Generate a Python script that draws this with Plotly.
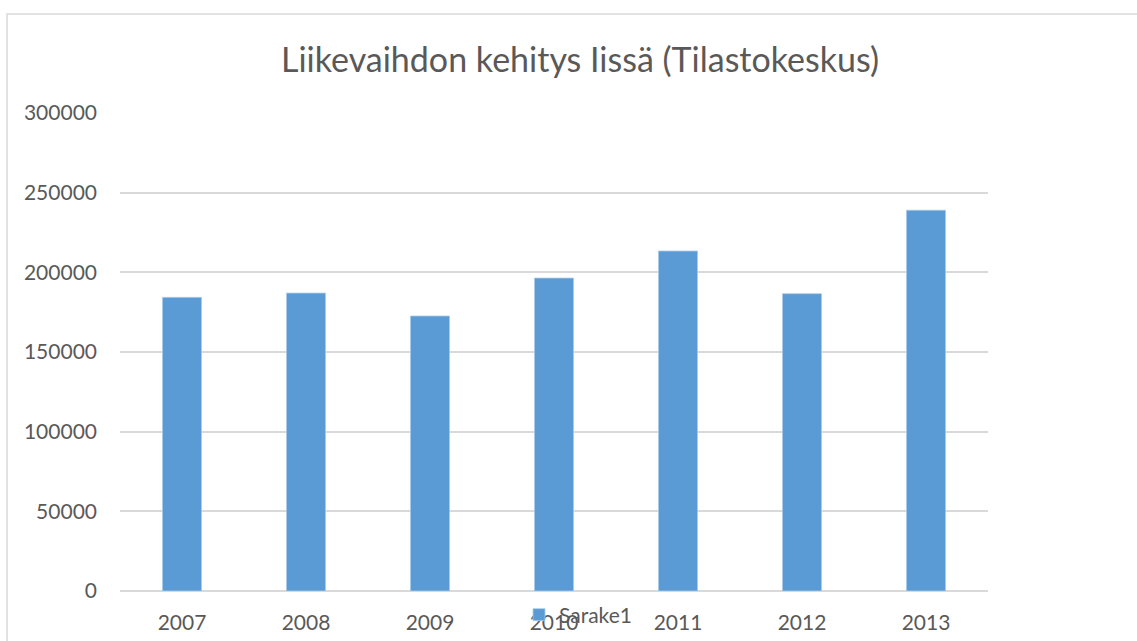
import plotly.graph_objects as go

years = ["2007", "2008", "2009", "2010", "2011", "2012", "2013"]
revenue = [184300, 187000, 172600, 196400, 213400, 186600, 239000]
series_name = "Sarake1"
title_text = "Liikevaihdon kehitys Iissä (Tilastokeskus)"
y_ticks = [0, 50000, 100000, 150000, 200000, 250000, 300000]

W, H = 1137, 641
L, R, T, B = 120, 1137 - 988, 113, 641 - 591
pw, ph = W - L - R, H - T - B

def px_x(p):
    return (p - L) / pw

def px_y(p):
    return (H - B - p) / ph

fig = go.Figure()
fig.add_trace(go.Bar(
    x=years, y=revenue, name=series_name,
    marker=dict(color="#5B9BD5", line=dict(color="#A9CBEA", width=0.8)),
    showlegend=True,
))

fig.update_layout(
    width=W, height=H,
    margin=dict(l=L, r=R, t=T, b=B, autoexpand=False),
    paper_bgcolor="white", plot_bgcolor="white",
    bargap=0.685,
    font=dict(family="Lato", color="#595959", size=21),
    title=dict(text=title_text, x=580 / W, xanchor="center", xref="container",
               y=1 - 60 / H, yanchor="middle",
               font=dict(family="Lato", size=34, color="#595959")),
    showlegend=True,
    legend=dict(orientation="h", x=578 / W, xanchor="center", xref="container",
                y=1 - 615 / H, yanchor="middle", yref="container",
                bgcolor="rgba(0,0,0,0)", font=dict(size=21, color="#595959"),
                itemwidth=30),
    xaxis=dict(showgrid=False, showline=False, ticks="",
               ticklabelstandoff=17, tickfont=dict(size=21, color="#595959")),
    yaxis=dict(range=[0, 300000], tickvals=y_ticks, showgrid=True,
               gridcolor="#D9D9D9", gridwidth=1.5, zeroline=True,
               zerolinecolor="#D9D9D9", zerolinewidth=1.5, showline=False,
               ticks="", ticklabelstandoff=22, tickformat="d",
               tickfont=dict(size=21, color="#595959")),
    shapes=[dict(type="rect", xref="paper", yref="paper",
                 x0=px_x(7), x1=px_x(1300), y0=px_y(14), y1=px_y(800),
                 line=dict(color="#D9D9D9", width=1.5), layer="below")],
)

fig.write_html("out.html", config={"displayModeBar": False},
               post_script="document.body.style.margin='0px';document.body.style.overflow='hidden';")
